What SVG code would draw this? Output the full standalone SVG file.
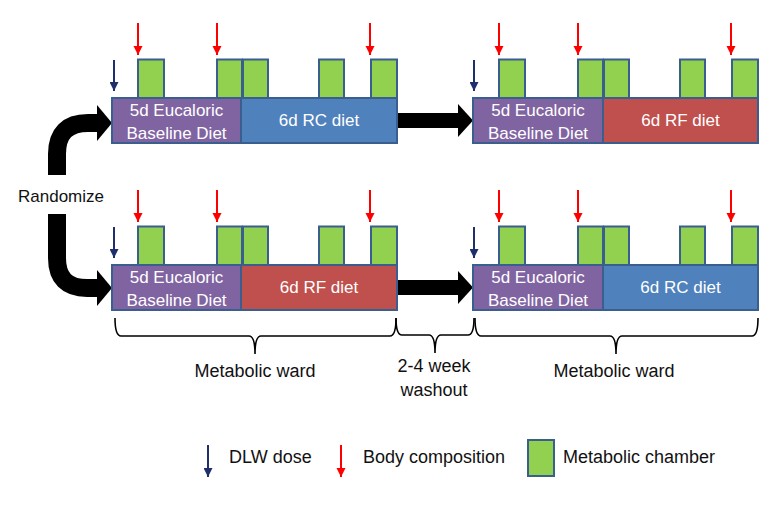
<svg xmlns="http://www.w3.org/2000/svg" width="776" height="507" viewBox="0 0 776 507">
<defs>
<style>
.box{stroke:#3A5F8F;stroke-width:2}
.purple{fill:#8064A2}
.blue{fill:#4F81BD}
.red{fill:#C0504D}
.ch{fill:#92D050;stroke:#3A5F8F;stroke-width:2}
.bt{font-family:"Liberation Sans",Arial,sans-serif;font-size:17px;fill:#ffffff;text-anchor:middle}
.t{font-family:"Liberation Sans",Arial,sans-serif;font-size:17px;fill:#111111}
.l{font-size:18px}
.tc{text-anchor:middle}
.rl{stroke:#FF0000;stroke-width:2;fill:none}
.nl{stroke:#1F2F6B;stroke-width:2;fill:none}
.brace{stroke:#000;stroke-width:1.6;fill:none}
.big{stroke:#000;stroke-width:18;fill:none}
</style>
<marker id="ra" viewBox="0 0 10 10" refX="10" refY="5" markerWidth="9" markerHeight="10" markerUnits="userSpaceOnUse" orient="auto"><path d="M0,0 L10,5 L0,10 Z" fill="#FF0000"/></marker>
<marker id="na" viewBox="0 0 10 10" refX="10" refY="5" markerWidth="11" markerHeight="9" markerUnits="userSpaceOnUse" orient="auto"><path d="M0,0 L10,5 L0,10 Z" fill="#1F2F6B"/></marker>
</defs>
<rect width="776" height="507" fill="#ffffff"/>

<g id="connectors">
<path class="big" d="M57,175 V154 Q57,123 88,123 H99"/>
<polygon points="97,105 112,123 97,141" fill="#000"/>
<path class="big" d="M57,214 V258 Q57,288 87,288 H99"/>
<polygon points="97,270 112,288 97,306" fill="#000"/>
<rect x="397" y="113" width="62" height="15" fill="#000"/>
<polygon points="458,104 473,120.5 458,137" fill="#000"/>
<rect x="397" y="280" width="62" height="15" fill="#000"/>
<polygon points="458,271 473,287.5 458,304" fill="#000"/>
</g>

<g id="randomize"><text class="t" x="18" y="202">Randomize</text></g>

<g id="row1-left">
<rect class="ch" x="138" y="59.5" width="26" height="38.5"/>
<rect class="ch" x="217" y="59.5" width="25" height="38.5"/>
<rect class="ch" x="243" y="59.5" width="25" height="38.5"/>
<rect class="ch" x="319" y="59.5" width="25" height="38.5"/>
<rect class="ch" x="371" y="59.5" width="26" height="38.5"/>
<rect class="box purple" x="112" y="98" width="129" height="45"/>
<rect class="box blue" x="241" y="98" width="156" height="45"/>
<text class="bt" x="176.5" y="116">5d Eucaloric</text>
<text class="bt" x="176.5" y="139">Baseline Diet</text>
<text class="bt" x="319" y="126">6d RC diet</text>
<line class="rl" x1="138" y1="23" x2="138" y2="55" marker-end="url(#ra)"/>
<line class="rl" x1="217" y1="23" x2="217" y2="55" marker-end="url(#ra)"/>
<line class="rl" x1="370" y1="23" x2="370" y2="55" marker-end="url(#ra)"/>
<line class="nl" x1="114" y1="60" x2="114" y2="91" marker-end="url(#na)"/>
</g>

<g id="row1-right">
<rect class="ch" x="499" y="59.5" width="26" height="38.5"/>
<rect class="ch" x="578" y="59.5" width="25" height="38.5"/>
<rect class="ch" x="604" y="59.5" width="25" height="38.5"/>
<rect class="ch" x="680" y="59.5" width="25" height="38.5"/>
<rect class="ch" x="732" y="59.5" width="26" height="38.5"/>
<rect class="box purple" x="473" y="98" width="130" height="45"/>
<rect class="box red" x="603" y="98" width="155" height="45"/>
<text class="bt" x="538" y="116">5d Eucaloric</text>
<text class="bt" x="538" y="139">Baseline Diet</text>
<text class="bt" x="680.5" y="126">6d RF diet</text>
<line class="rl" x1="499" y1="23" x2="499" y2="55" marker-end="url(#ra)"/>
<line class="rl" x1="578" y1="23" x2="578" y2="55" marker-end="url(#ra)"/>
<line class="rl" x1="731" y1="23" x2="731" y2="55" marker-end="url(#ra)"/>
<line class="nl" x1="474" y1="60" x2="474" y2="91" marker-end="url(#na)"/>
</g>

<g id="row2-left">
<rect class="ch" x="138" y="226.5" width="26" height="38.5"/>
<rect class="ch" x="217" y="226.5" width="25" height="38.5"/>
<rect class="ch" x="243" y="226.5" width="25" height="38.5"/>
<rect class="ch" x="319" y="226.5" width="25" height="38.5"/>
<rect class="ch" x="371" y="226.5" width="26" height="38.5"/>
<rect class="box purple" x="112" y="265" width="129" height="45"/>
<rect class="box red" x="241" y="265" width="156" height="45"/>
<text class="bt" x="176.5" y="283">5d Eucaloric</text>
<text class="bt" x="176.5" y="306">Baseline Diet</text>
<text class="bt" x="319" y="293">6d RF diet</text>
<line class="rl" x1="138" y1="190" x2="138" y2="222" marker-end="url(#ra)"/>
<line class="rl" x1="217" y1="190" x2="217" y2="222" marker-end="url(#ra)"/>
<line class="rl" x1="370" y1="190" x2="370" y2="222" marker-end="url(#ra)"/>
<line class="nl" x1="114" y1="227" x2="114" y2="258" marker-end="url(#na)"/>
</g>

<g id="row2-right">
<rect class="ch" x="499" y="226.5" width="26" height="38.5"/>
<rect class="ch" x="578" y="226.5" width="25" height="38.5"/>
<rect class="ch" x="604" y="226.5" width="25" height="38.5"/>
<rect class="ch" x="680" y="226.5" width="25" height="38.5"/>
<rect class="ch" x="732" y="226.5" width="26" height="38.5"/>
<rect class="box purple" x="473" y="265" width="130" height="45"/>
<rect class="box blue" x="603" y="265" width="155" height="45"/>
<text class="bt" x="538" y="283">5d Eucaloric</text>
<text class="bt" x="538" y="306">Baseline Diet</text>
<text class="bt" x="680.5" y="293">6d RC diet</text>
<line class="rl" x1="499" y1="190" x2="499" y2="222" marker-end="url(#ra)"/>
<line class="rl" x1="578" y1="190" x2="578" y2="222" marker-end="url(#ra)"/>
<line class="rl" x1="731" y1="190" x2="731" y2="222" marker-end="url(#ra)"/>
<line class="nl" x1="474" y1="227" x2="474" y2="258" marker-end="url(#na)"/>
</g>

<g id="brace-ward1">
<path class="brace" d="M115,318 Q115,336 121,336 H249 Q255,336 255,354 Q255,336 261,336 H390 Q396,336 396,318"/>
<text class="t l tc" x="255" y="377">Metabolic ward</text>
</g>
<g id="brace-washout">
<path class="brace" d="M396,318 Q396,335 402,335 H429 Q435,335 435,353 Q435,335 441,335 H468 Q474,335 474,318"/>
<text class="t l tc" x="434" y="372">2-4 week</text>
<text class="t l tc" x="434" y="396">washout</text>
</g>
<g id="brace-ward2">
<path class="brace" d="M475,318 Q475,336 481,336 H610 Q616,336 616,354 Q616,336 622,336 H752 Q758,336 758,318"/>
<text class="t l tc" x="614" y="377">Metabolic ward</text>
</g>

<g id="legend">
<line class="nl" x1="208" y1="445" x2="208" y2="477" marker-end="url(#na)"/>
<text class="t l" x="229" y="463">DLW dose</text>
<line class="rl" x1="341" y1="445" x2="341" y2="477" marker-end="url(#ra)"/>
<text class="t l" x="363" y="463">Body composition</text>
<rect class="ch" x="528" y="440" width="26" height="36"/>
<text class="t l" x="563" y="463">Metabolic chamber</text>
</g>
</svg>
